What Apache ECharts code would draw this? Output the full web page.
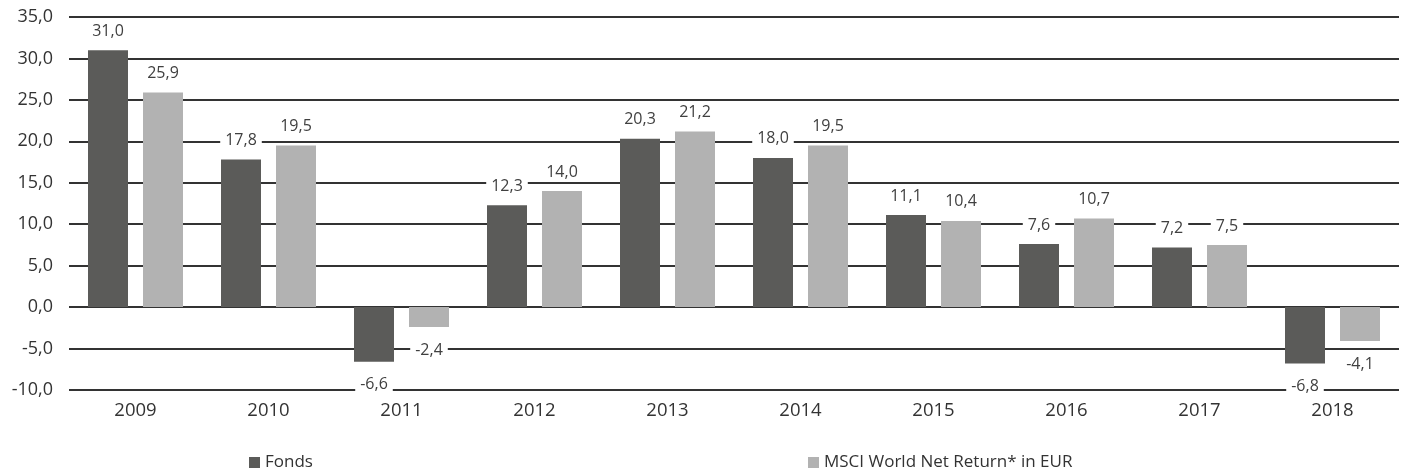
<!DOCTYPE html>
<html><head><meta charset="utf-8">
<script src="https://cdn.jsdelivr.net/npm/echarts@6/dist/echarts.min.js"></script>
<style>html,body{margin:0;padding:0;background:#fff}#c{width:1402px;height:470px}</style>
</head><body><div id="c"></div>
<script>
var categories = ['2009','2010','2011','2012','2013','2014','2015','2016','2017','2018'];
var fonds = [31.0, 17.8, -6.6, 12.3, 20.3, 18.0, 11.1, 7.6, 7.2, -6.8];
var msci = [25.9, 19.5, -2.4, 14.0, 21.2, 19.5, 10.4, 10.7, 7.5, -4.1];
var seriesNames = ['Fonds', 'MSCI World Net Return* in EUR'];
var colors = ['#5b5b59', '#b2b2b2'];
var FONT = 'Open Sans';
function fmt(v){ return v.toFixed(1).replace('.', ','); }
function mk(arr){
  return arr.map(function(v){ return {value: v, label: v < 0 ? {position: 'bottom', distance: 13} : {position: 'top', distance: 9}}; });
}
var labelStyle = {show: true, formatter: function(p){ return fmt(p.value); }, fontFamily: FONT, fontSize: 16, color: '#404040', backgroundColor: '#fff', padding: [2,5]};
var chart = echarts.init(document.getElementById('c'), null, {renderer: 'canvas'});
chart.setOption({
  animation: false,
  grid: {left: 69, right: 3, top: 17, bottom: 80, containLabel: false},
  legend: [
    {data: [seriesNames[0]], left: 244, top: 449, itemWidth: 11, itemHeight: 11, itemGap: 4, icon: 'rect', textStyle: {fontFamily: FONT, fontSize: 17, color: '#333'}},
    {data: [seriesNames[1]], left: 803, top: 449, itemWidth: 11, itemHeight: 11, itemGap: 4, icon: 'rect', textStyle: {fontFamily: FONT, fontSize: 17, color: '#333'}}
  ],
  xAxis: {type: 'category', data: categories, axisLine: {show: false}, axisTick: {show: false},
    axisLabel: {fontFamily: FONT, fontSize: 18.5, color: '#333', margin: 11}},
  yAxis: {type: 'value', min: -10, max: 35, interval: 5,
    axisLine: {show: false}, axisTick: {show: false},
    axisLabel: {fontFamily: FONT, fontSize: 18, color: '#333', margin: 16, formatter: function(v){ return fmt(v); }},
    splitLine: {lineStyle: {color: '#333', width: 2}}},
  series: [
    {name: seriesNames[0], type: 'bar', data: mk(fonds), barWidth: 40, barGap: '37.5%', itemStyle: {color: colors[0]}, label: labelStyle},
    {name: seriesNames[1], type: 'bar', data: mk(msci), barWidth: 40, itemStyle: {color: colors[1]}, label: labelStyle}
  ]
});
</script></body></html>
